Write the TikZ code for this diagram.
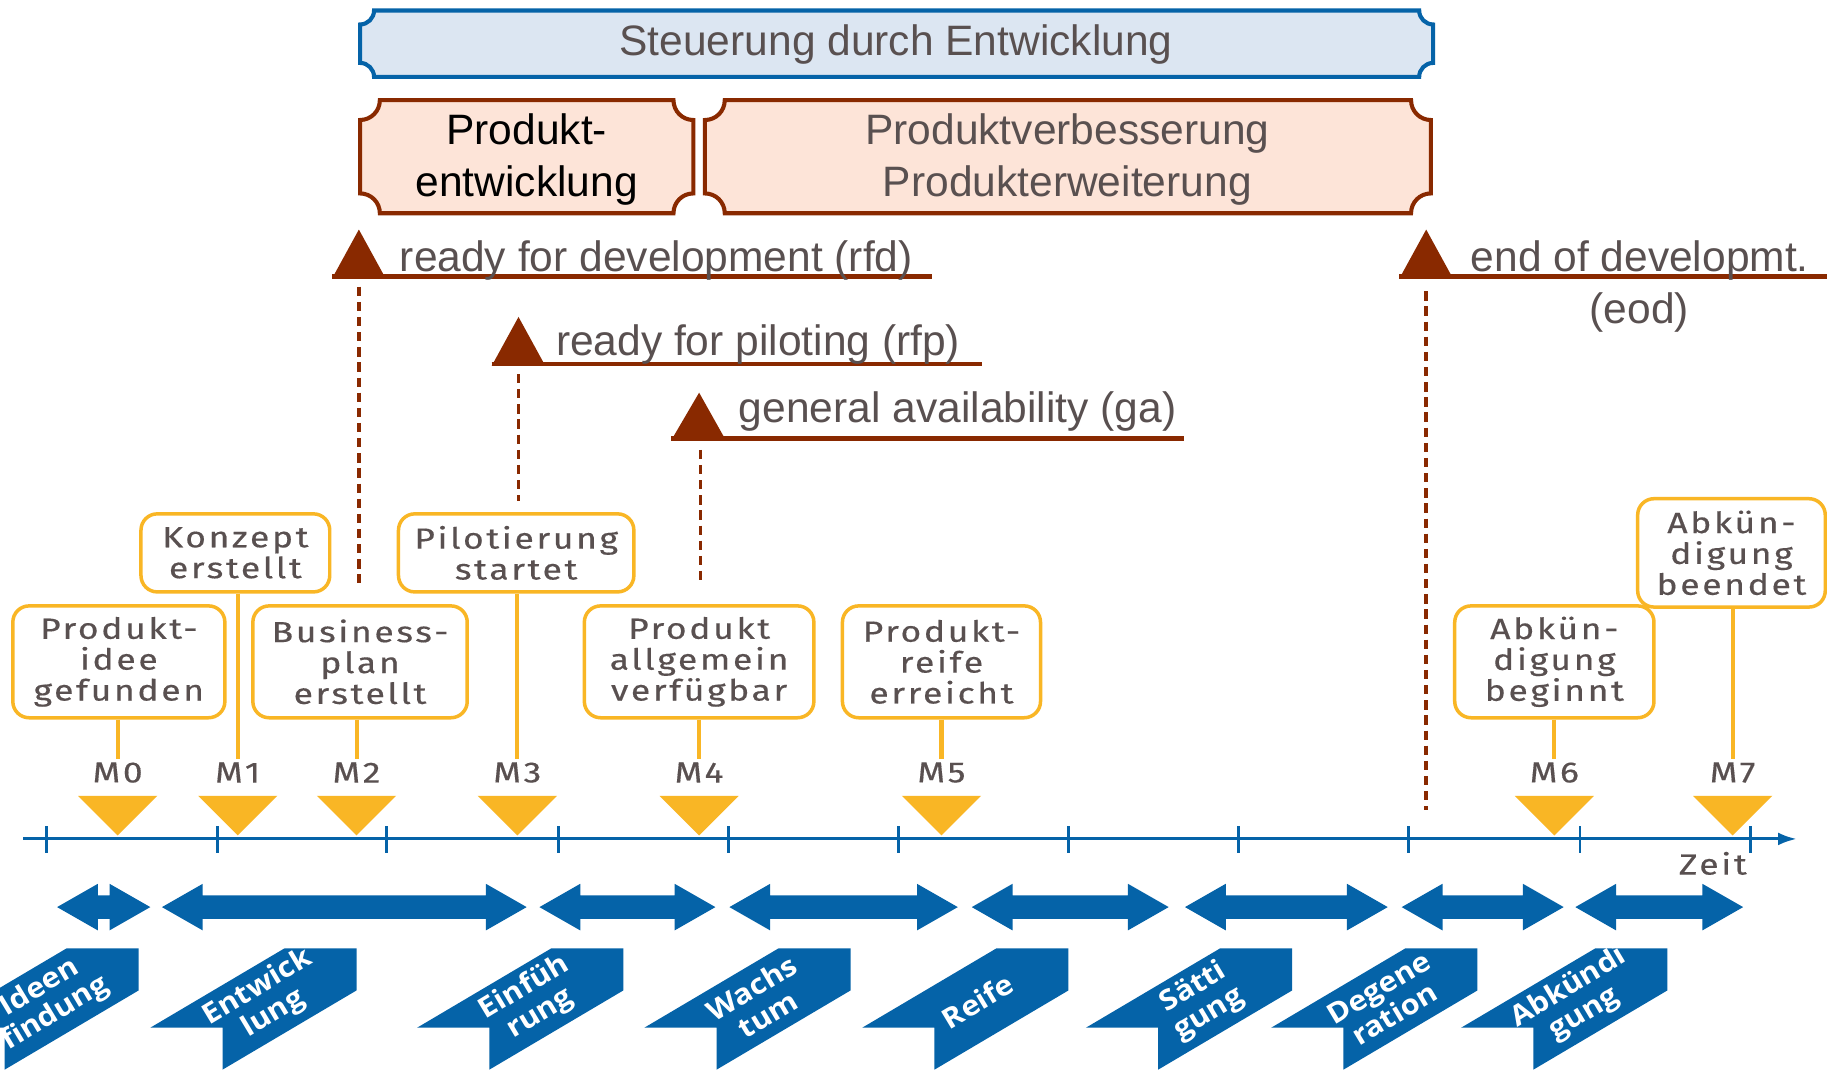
\documentclass[tikz,border=0pt]{standalone}
\usepackage{fontspec}
\setmainfont{Liberation Sans}
\newfontfamily\callfont[FakeStretch=1.22,LetterSpace=9,FakeBold=0.4]{Fira Sans}
\newfontfamily\ribfont[FakeStretch=1.1]{Open Sans}
\usetikzlibrary{arrows.meta}
\definecolor{dblue}{RGB}{5,99,168}
\definecolor{lblue}{RGB}{220,230,242}
\definecolor{brn}{RGB}{137,41,0}
\definecolor{salmon}{RGB}{253,228,216}
\definecolor{yel}{RGB}{249,182,37}
\definecolor{txt}{RGB}{89,80,80}
\newcommand\concbox[6]{%
 \draw[#1] ({#2+#6},#3) -- ({#4-#6},#3) arc[start angle=180,end angle=90,radius=#6]
  -- (#4,{#5-#6}) arc[start angle=270,end angle=180,radius=#6]
  -- ({#2+#6},#5) arc[start angle=0,end angle=-90,radius=#6]
  -- (#2,{#3+#6}) arc[start angle=90,end angle=0,radius=#6] -- cycle;}
\begin{document}
\begin{tikzpicture}[x=1pt,y=-1pt,
  hdr/.style={font=\fontsize{36.5}{44}\selectfont, text=txt, align=center, inner sep=0pt},
  mtext/.style={font=\fontsize{36.5}{44}\selectfont, text=txt, inner sep=0pt},
  callout/.style={draw=yel, line width=3pt, rounded corners=14pt, fill=white, align=center,
     inner sep=0pt, font=\callfont\fontsize{25}{26.5}\selectfont, text=txt},
  mlab/.style={font=\callfont\fontsize{25}{26.5}\selectfont, text=txt, inner sep=3pt},
  yline/.style={draw=yel, line width=3.5pt},
  bdash/.style={draw=brn, line width=3pt, dash pattern=on 8pt off 5pt},
  bline/.style={draw=brn, line width=4pt},
  ribtext/.style={font=\ribfont\bfseries\fontsize{24}{26}\selectfont, text=white, align=center, inner sep=0pt, rotate=31},
  tick/.style={draw=dblue, line width=2.5pt}
]
\useasboundingbox (0,0) rectangle (1568,918);
\clip (0,0) rectangle (1568,918);
\fill[white] (0,0) rectangle (1568,918);

% header boxes
\concbox{draw=dblue, fill=lblue, line width=3.5pt}{309}{9}{1230}{66}{12}
\node[hdr] (steu) at (769,38) {Steuerung durch Entwicklung};
\concbox{draw=brn, fill=salmon, line width=3.5pt}{309}{86}{595}{183}{17}
\concbox{draw=brn, fill=salmon, line width=3.5pt}{605}{86}{1228}{183}{17}
\node[hdr, text=black] (pe) at (452,137) {Produkt-\\entwicklung};
\node[hdr] (pv) at (916,137) {Produktverbesserung\\Produkterweiterung};

% milestone markers (brown)
\fill[brn] (285,239) -- (308,197) -- (331,239) -- cycle;
\draw[bline] (285,237.5) -- (800,237.5);
\node[mtext, anchor=base west] (rfd) at (343,233) {ready for development (rfd)};
\coordinate (rfdA) at (308,246); \coordinate (rfdB) at (308,500);
\draw[bdash] (rfdA) -- (rfdB);

\fill[brn] (422,314) -- (445,272) -- (468,314) -- cycle;
\draw[bline] (422,312.5) -- (843,312.5);
\node[mtext, anchor=base west] (rfp) at (477,305) {ready for piloting (rfp)};
\coordinate (rfpA) at (445,321); \coordinate (rfpB) at (445,430);
\draw[bdash] (rfpA) -- (rfpB);

\fill[brn] (576,378) -- (600,337) -- (623,378) -- cycle;
\draw[bline] (576,376.5) -- (1016,376.5);
\node[mtext, anchor=base west] (ga) at (634,363) {general availability (ga)};
\coordinate (gaA) at (601,386); \coordinate (gaB) at (601,500);
\draw[bdash] (gaA) -- (gaB);

\fill[brn] (1201,239) -- (1224,197) -- (1247,239) -- cycle;
\draw[bline] (1201,237.5) -- (1568,237.5);
\node[mtext, anchor=base west] (eod) at (1262,233) {end of developmt.};
\node[mtext, anchor=base] (eod2) at (1407,278) {(eod)};
\coordinate (eodA) at (1224,250); \coordinate (eodB) at (1224,695);
\draw[bdash] (eodA) -- (eodB);

% callouts
\node[callout, minimum width=182pt, minimum height=96pt] (c0) at (102,568) {Produkt-\\idee\\gefunden};
\node[callout, minimum width=162pt, minimum height=67pt] (c1) at (202,474.5) {Konzept\\erstellt};
\node[callout, minimum width=184pt, minimum height=96pt] (c2) at (309,568) {Business-\\plan\\erstellt};
\node[callout, minimum width=202pt, minimum height=67pt] (c3) at (443,474.5) {Pilotierung\\startet};
\node[callout, minimum width=197pt, minimum height=96pt] (c4) at (600,568) {Produkt\\allgemein\\verfügbar};
\node[callout, minimum width=170pt, minimum height=96pt] (c5) at (808,568) {Produkt-\\reife\\erreicht};
\node[callout, minimum width=171pt, minimum height=96pt] (c6) at (1334,568) {Abkün-\\digung\\beginnt};
\node[callout, minimum width=161pt, minimum height=93pt] (c7) at (1486,474.5) {Abkün-\\digung\\beendet};

% milestone labels and triangles
\foreach \i/\x in {0/101,1/204,2/306,3/444,4/600,5/808,6/1334,7/1487}{
  \node[mlab] (m\i) at (\x,663) {M\i};
  \fill[yel] ({\x-34},683) -- ({\x+34},683) -- (\x,717) -- cycle;
  \draw[yline] (m\i.north |- c\i.south) -- (m\i.north);
}

% time axis
\coordinate (ax0) at (20,720); \coordinate (ax1) at (1542,720);
\draw[dblue, line width=2.5pt, -{Latex[length=16pt,width=11pt]}] (ax0) -- (ax1);
\foreach \x in {40,187,332,479,625,771,917,1063,1209,1356,1502}{
  \draw[tick] (\x,709) -- (\x,732);
}
\node[mlab] (zeit) at (1470,741) {Zeit};

% double arrows
\foreach \a/\b in {49/129,139/452,463/614,626/822,834/1003,1017/1191,1203/1342,1352/1496}{
  \fill[dblue] (\a,778.5) -- ({\a+35},758.5) -- ({\a+35},768.5) -- ({\b-35},768.5) -- ({\b-35},758.5)
    -- (\b,778.5) -- ({\b-35},798.5) -- ({\b-35},788.5) -- ({\a+35},788.5) -- ({\a+35},798.5) -- cycle;
}

% ribbons
\foreach \r/\t [count=\k] in {119/{Ideen\\findung},306/{Entwick\\lung},535/{Einfüh\\rung},730/{Wachs\\tum},917/{Reife},1109/{Sätti\\gung},1268/{Degene\\ration},1431/{Abkündi\\gung}}{
  \fill[dblue] ({\r-62},814) -- (\r,814) -- (\r,850) -- ({\r-115},918) -- ({\r-115},882) -- ({\r-177},882) -- cycle;
  \node[ribtext] (rib\k) at ({\r-78},859) {\t};
}
\end{tikzpicture}
\end{document}
